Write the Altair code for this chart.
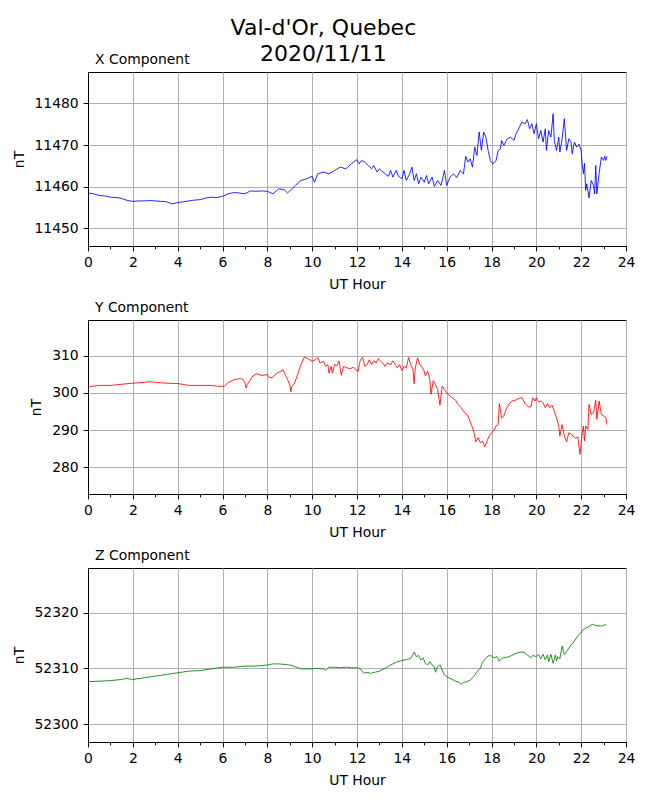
import altair as alt
import pandas as pd

# ---- data (UT hour, nT) ----
X_SERIES = [
    (0, 11458.5), (0.25, 11458.3), (0.5, 11457.9), (0.75, 11457.8), (1, 11457.5), (1.25, 11457.4),
    (1.5, 11457.2), (1.75, 11456.7), (2, 11456.5), (2.25, 11456.6), (2.5, 11456.6), (2.75, 11456.7),
    (3, 11456.6), (3.25, 11456.5), (3.5, 11456.4), (3.75, 11455.9), (4, 11456.2), (4.25, 11456.4),
    (4.5, 11456.6), (4.75, 11456.8), (5, 11456.9), (5.25, 11457.3), (5.5, 11457.5), (5.75, 11457.4),
    (6, 11457.7), (6.25, 11458.3), (6.5, 11458.6), (6.75, 11458.5), (7, 11458.3), (7.25, 11459.0),
    (7.5, 11458.9), (7.75, 11459.0), (8, 11458.9), (8.25, 11458.3), (8.5, 11459.5), (8.75, 11459.3),
    (8.9, 11458.5), (9, 11459.0), (9.25, 11460.3), (9.5, 11461.5), (9.75, 11461.9), (10, 11462.5),
    (10.1, 11461.1), (10.25, 11463.1), (10.5, 11463.5), (10.75, 11463.1), (11, 11463.9),
    (11.25, 11464.7), (11.5, 11464.3), (11.75, 11465.5), (12, 11466.5), (12.1, 11465.5),
    (12.2, 11466.3), (12.35, 11465.9), (12.5, 11465.1), (12.65, 11464.3), (12.75, 11465.1),
    (12.9, 11463.5), (13.0, 11464.3), (13.1, 11463.8), (13.25, 11463.1), (13.4, 11462.5),
    (13.5, 11463.9), (13.6, 11462.3), (13.75, 11463.9), (13.85, 11462.5), (14.0, 11461.9),
    (14.1, 11463.9), (14.2, 11461.5), (14.35, 11463.1), (14.45, 11464.7), (14.55, 11461.5),
    (14.65, 11463.1), (14.75, 11460.7), (14.85, 11462.3), (15.0, 11461.1), (15.1, 11462.7),
    (15.2, 11460.7), (15.35, 11462.3), (15.45, 11460.1), (15.6, 11461.5), (15.75, 11460.3),
    (15.9, 11463.9), (16.0, 11460.3), (16.15, 11462.3), (16.3, 11463.1), (16.45, 11462.2),
    (16.6, 11463.9), (16.75, 11463.1), (16.85, 11467.3), (16.95, 11465.9), (17.05, 11466.7),
    (17.15, 11464.7), (17.25, 11469.5), (17.35, 11467.5), (17.45, 11473.1), (17.55, 11468.7),
    (17.65, 11473.1), (17.75, 11471.9), (17.85, 11468.7), (17.95, 11466.3), (18.05, 11465.5),
    (18.2, 11466.2), (18.3, 11468.7), (18.4, 11469.1), (18.45, 11471.1), (18.55, 11469.9),
    (18.7, 11471.5), (18.85, 11471.9), (19.0, 11471.1), (19.1, 11472.7), (19.25, 11474.3),
    (19.35, 11475.5), (19.5, 11475.1), (19.6, 11476.1), (19.7, 11473.9), (19.8, 11475.1),
    (19.9, 11472.7), (20.0, 11475.1), (20.1, 11471.5), (20.2, 11473.5), (20.3, 11470.7),
    (20.4, 11473.9), (20.45, 11468.7), (20.55, 11473.5), (20.65, 11471.9), (20.75, 11477.5),
    (20.8, 11471.1), (20.9, 11468.7), (21.0, 11471.9), (21.05, 11468.3), (21.15, 11471.5),
    (21.25, 11476.3), (21.35, 11468.7), (21.45, 11471.5), (21.55, 11470.7), (21.6, 11467.9),
    (21.7, 11470.7), (21.8, 11469.5), (21.9, 11470.2), (22.0, 11468.7), (22.05, 11465.1),
    (22.1, 11463.1), (22.15, 11465.6), (22.2, 11459.1), (22.25, 11460.7), (22.35, 11457.3),
    (22.45, 11461.5), (22.55, 11460.3), (22.6, 11458.3), (22.65, 11465.1), (22.7, 11458.3),
    (22.8, 11463.1), (22.9, 11467.1), (23.0, 11466.3), (23.05, 11467.3), (23.1, 11466.3),
    (23.15, 11467.3),
]

Y_SERIES = [
    (0, 301.6), (0.5, 302.0), (1, 302.0), (1.5, 302.3), (2, 302.6), (2.5, 302.8), (2.75, 303.0),
    (3, 302.8), (3.5, 302.6), (4, 302.5), (4.5, 302.0), (5, 302.0), (5.5, 302.0), (5.75, 301.8),
    (6, 301.7), (6.1, 301.9), (6.25, 302.7), (6.5, 303.5), (6.75, 303.8), (6.9, 303.7), (7.0, 302.7),
    (7.05, 301.3), (7.1, 302.2), (7.2, 303.1), (7.35, 304.5), (7.5, 305.1), (7.75, 304.7),
    (8.0, 304.9), (8.1, 304.0), (8.25, 304.2), (8.4, 305.2), (8.6, 305.8), (8.7, 306.2),
    (8.8, 304.9), (8.9, 303.6), (9.0, 302.2), (9.05, 300.3), (9.1, 301.8), (9.2, 302.4),
    (9.35, 304.9), (9.5, 307.6), (9.65, 309.6), (9.8, 309.2), (10.0, 308.5), (10.15, 308.9),
    (10.25, 309.5), (10.35, 308.0), (10.5, 308.5), (10.6, 307.1), (10.7, 307.6), (10.75, 305.3),
    (10.85, 307.1), (10.9, 305.3), (11.0, 307.6), (11.1, 307.3), (11.2, 308.5), (11.3, 304.7),
    (11.4, 307.1), (11.55, 306.7), (11.7, 306.5), (11.85, 306.9), (11.95, 306.2), (12.0, 305.8),
    (12.05, 305.8), (12.15, 308.9), (12.25, 309.5), (12.35, 307.1), (12.45, 307.6), (12.55, 308.9),
    (12.65, 307.6), (12.75, 308.6), (12.85, 308.0), (12.95, 309.2), (13.05, 308.5), (13.15, 308.0),
    (13.25, 307.1), (13.35, 308.0), (13.5, 307.6), (13.6, 308.6), (13.7, 307.6), (13.8, 306.7),
    (13.9, 307.6), (14.0, 306.0), (14.1, 307.1), (14.2, 306.7), (14.3, 309.5), (14.4, 307.6),
    (14.5, 306.2), (14.55, 302.4), (14.6, 306.7), (14.7, 309.4), (14.8, 307.6), (14.9, 306.9),
    (15.0, 305.8), (15.05, 304.5), (15.15, 305.8), (15.25, 303.6), (15.3, 299.6), (15.4, 303.3),
    (15.5, 302.2), (15.6, 300.9), (15.7, 296.7), (15.8, 301.8), (15.9, 300.9), (16.0, 300.0),
    (16.1, 299.4), (16.25, 298.7), (16.4, 298.0), (16.5, 296.9), (16.65, 296.0), (16.8, 294.7),
    (16.95, 293.8), (17.1, 291.5), (17.2, 289.8), (17.3, 286.9), (17.4, 288.0), (17.5, 286.6),
    (17.6, 287.1), (17.7, 285.5), (17.8, 287.1), (17.9, 288.4), (18.0, 289.3), (18.1, 289.8),
    (18.2, 291.1), (18.3, 291.5), (18.35, 297.1), (18.45, 293.3), (18.55, 293.8), (18.65, 295.5),
    (18.75, 296.7), (18.9, 297.8), (19.05, 298.0), (19.2, 298.4), (19.35, 298.8), (19.5, 297.1),
    (19.65, 296.2), (19.75, 296.2), (19.85, 298.7), (19.95, 297.8), (20.0, 298.7), (20.1, 297.6),
    (20.2, 297.8), (20.3, 297.3), (20.4, 296.0), (20.5, 297.1), (20.6, 296.0), (20.7, 296.7),
    (20.8, 295.1), (20.9, 293.3), (21.0, 291.1), (21.05, 288.4), (21.15, 291.5), (21.25, 288.4),
    (21.35, 286.9), (21.45, 289.3), (21.55, 288.9), (21.65, 288.4), (21.75, 287.8), (21.85, 288.2),
    (21.9, 285.7), (21.95, 283.5), (22.05, 289.3), (22.1, 291.1), (22.15, 287.1), (22.2, 291.1),
    (22.3, 290.2), (22.35, 296.9), (22.45, 294.2), (22.55, 294.7), (22.65, 298.0), (22.7, 292.9),
    (22.8, 297.8), (22.9, 294.2), (23.0, 293.8), (23.1, 293.3), (23.15, 291.5),
]

Z_SERIES = [
    (0, 52307.6), (0.5, 52307.7), (1, 52307.8), (1.5, 52308.0), (1.7, 52308.2), (2, 52308.0),
    (2.5, 52308.3), (3, 52308.6), (3.5, 52308.9), (4, 52309.2), (4.5, 52309.5), (5, 52309.6),
    (5.5, 52309.9), (6, 52310.2), (6.5, 52310.2), (7, 52310.4), (7.5, 52310.4), (8, 52310.6),
    (8.25, 52310.8), (8.5, 52310.8), (8.75, 52310.7), (9, 52310.6), (9.25, 52310.3), (9.5, 52309.9),
    (9.75, 52309.9), (10, 52309.9), (10.25, 52310.0), (10.5, 52309.9), (10.6, 52309.6),
    (10.75, 52310.2), (11, 52310.2), (11.25, 52310.1), (11.5, 52310.2), (11.75, 52310.1),
    (12, 52310.1), (12.15, 52309.9), (12.3, 52309.1), (12.45, 52309.3), (12.6, 52309.1),
    (12.8, 52309.3), (13, 52309.5), (13.25, 52310.0), (13.5, 52310.6), (13.75, 52311.1),
    (14, 52311.4), (14.25, 52311.6), (14.4, 52311.8), (14.5, 52312.5), (14.55, 52312.9),
    (14.65, 52312.1), (14.75, 52312.3), (14.85, 52311.5), (14.95, 52311.9), (15.05, 52310.9),
    (15.15, 52310.6), (15.25, 52311.2), (15.35, 52310.6), (15.45, 52310.3), (15.5, 52309.3),
    (15.6, 52310.3), (15.7, 52310.6), (15.8, 52309.7), (15.9, 52308.8), (16.0, 52308.5),
    (16.2, 52308.1), (16.4, 52307.7), (16.55, 52307.5), (16.65, 52307.1), (16.75, 52307.5),
    (16.9, 52307.6), (17.05, 52307.9), (17.2, 52308.5), (17.35, 52309.4), (17.5, 52310.0),
    (17.6, 52311.1), (17.75, 52311.9), (17.9, 52312.3), (18.0, 52312.2), (18.1, 52311.9),
    (18.25, 52312.1), (18.35, 52311.3), (18.5, 52311.9), (18.7, 52312.0), (18.9, 52312.3),
    (19.1, 52312.7), (19.3, 52312.9), (19.45, 52312.9), (19.6, 52312.4), (19.75, 52311.9),
    (19.85, 52312.3), (20.0, 52312.1), (20.1, 52312.5), (20.2, 52311.7), (20.3, 52312.5),
    (20.4, 52311.5), (20.5, 52312.4), (20.55, 52311.2), (20.65, 52312.5), (20.75, 52310.9),
    (20.85, 52312.4), (20.9, 52311.3), (20.95, 52312.1), (21.05, 52311.7), (21.15, 52314.0),
    (21.25, 52312.5), (21.4, 52313.3), (21.55, 52314.2), (21.7, 52314.9), (21.85, 52315.8),
    (22.0, 52316.5), (22.15, 52317.1), (22.3, 52317.4), (22.5, 52317.9), (22.65, 52317.7),
    (22.8, 52317.6), (22.95, 52317.6), (23.1, 52317.9),
]

PANELS = [
    ("X Component", X_SERIES, "blue", [11445.8, 11487.5], [11450, 11460, 11470, 11480]),
    ("Y Component", Y_SERIES, "red", [272.86, 319.55], [280, 290, 300, 310]),
    ("Z Component", Z_SERIES, "green", [52296.8, 52327.98], [52300, 52310, 52320]),
]
X_TICKS = list(range(0, 25))
TITLE_LINES = ["Val-d'Or, Quebec", "2020/11/11"]

FONT = "DejaVu Sans"
EVEN = "datum.value % 2 == 0"


def panel(name, series, color, domain, yticks):
    df = pd.DataFrame(series, columns=["hour", "nT"])
    return (
        alt.Chart(df)
        .mark_line(color=color, strokeWidth=0.85)
        .encode(
            x=alt.X(
                "hour:Q",
                scale=alt.Scale(domain=[0, 24], nice=False, zero=False),
                axis=alt.Axis(
                    values=X_TICKS,
                    title="UT Hour",
                    labelExpr=f"{EVEN} ? datum.label : ''",
                    gridOpacity={"condition": {"test": EVEN, "value": 1}, "value": 0},
                    tickSize={"condition": {"test": EVEN, "value": 4.9}, "value": 2.8},
                    labelFlush=False,
                    labelPadding=4.9,
                ),
            ),
            y=alt.Y(
                "nT:Q",
                scale=alt.Scale(domain=domain, nice=False, zero=False),
                axis=alt.Axis(values=yticks, title="nT", tickSize=4.9, labelPadding=4.9,
                              labelFlush=False, format="d"),
            ),
        )
        .properties(
            width=538,
            height=174,
            title=alt.TitleParams(name, anchor="start", frame="group", fontSize=13.9,
                                  fontWeight="normal", font=FONT, color="black", dx=7, offset=5),
        )
    )


chart = (
    alt.vconcat(*[panel(*p) for p in PANELS], spacing=7)
    .properties(
        title=alt.TitleParams(TITLE_LINES, anchor="middle", fontSize=22, lineHeight=26,
                              fontWeight="normal", font=FONT, color="black", offset=-13),
        padding={"left": 3, "top": 8, "right": 2, "bottom": 0},
        background="white",
    )
    .configure_view(stroke="black", strokeWidth=1)
    .configure_axis(
        domainColor="black", domainWidth=1, tickColor="black", tickWidth=1,
        gridColor="#b0b0b0", gridWidth=1, labelColor="black", labelFontSize=13.9,
        labelFont=FONT, titleFont=FONT, titleFontSize=13.9, titleFontWeight="normal",
        titleColor="black", titlePadding=8,
    )
)

chart.save("out.html", embed_options={"renderer": "svg", "actions": False})
